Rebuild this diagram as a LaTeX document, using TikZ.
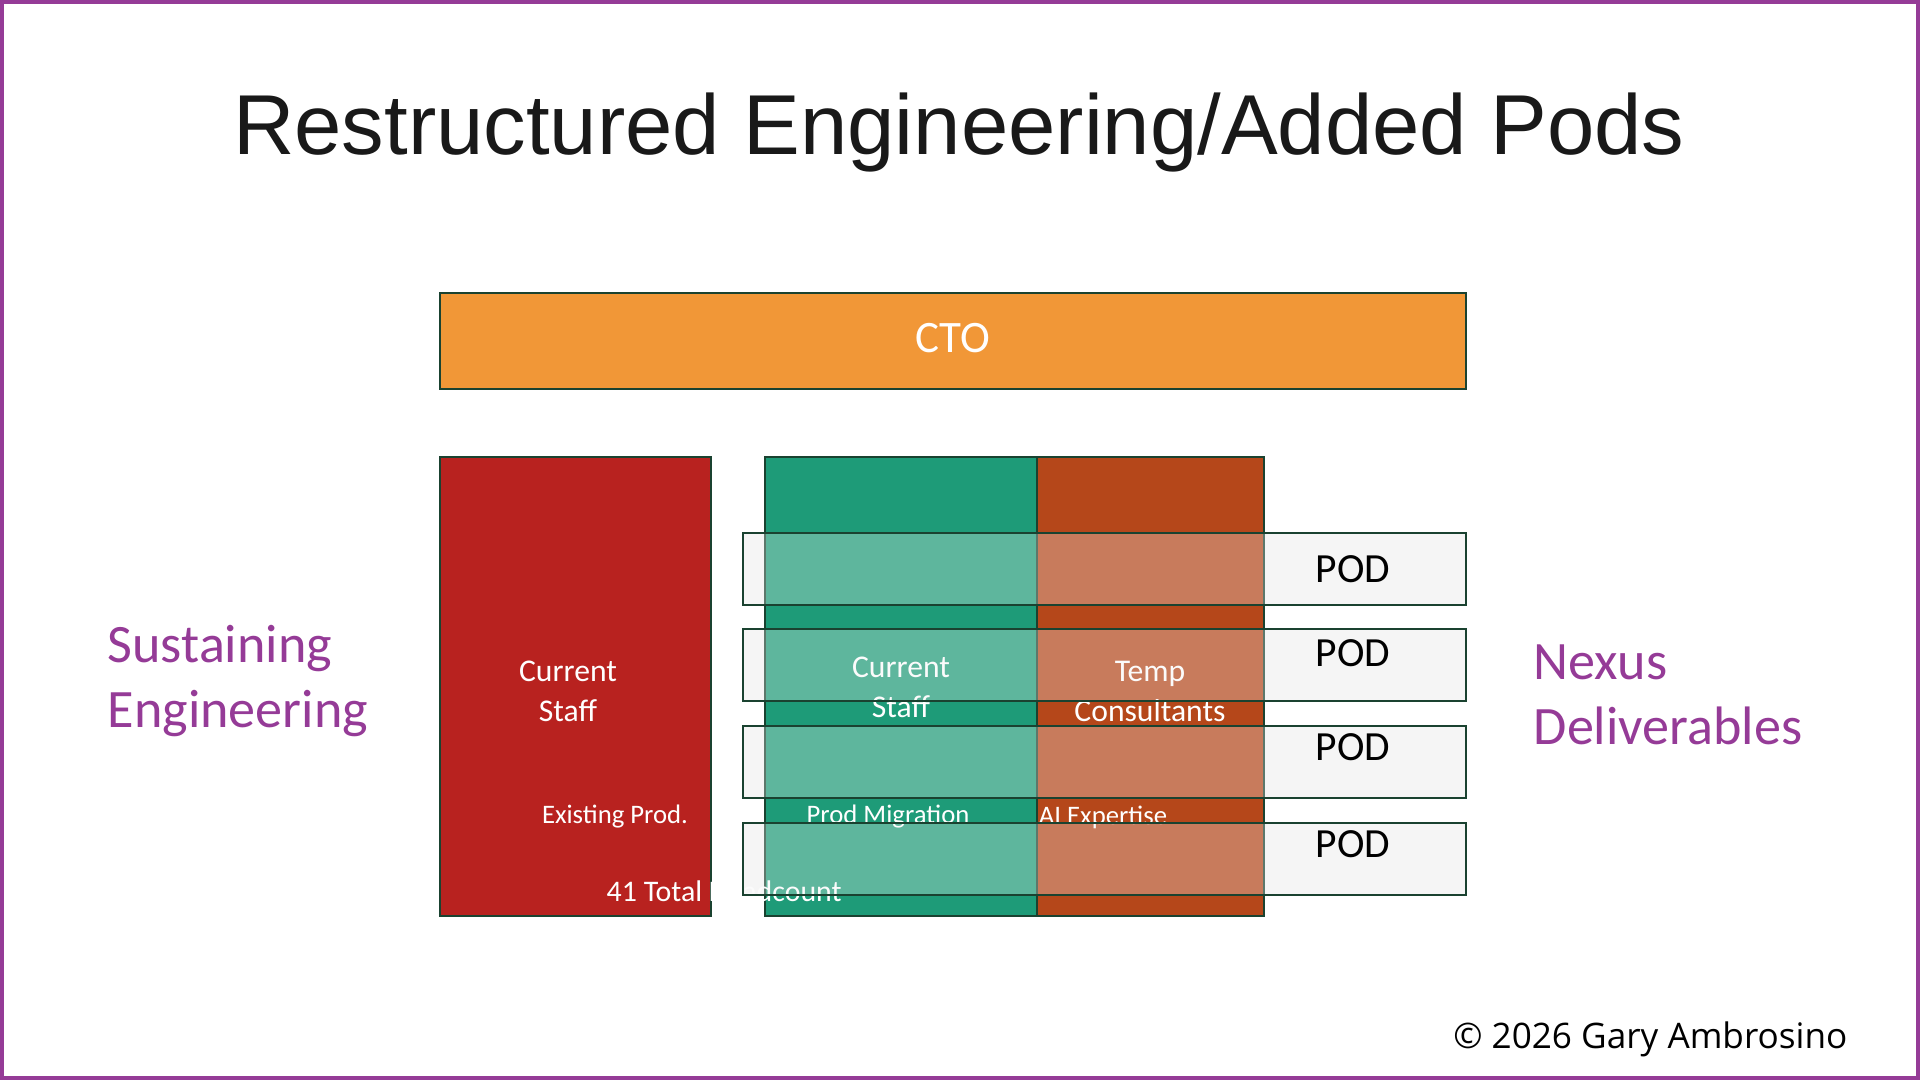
\documentclass[tikz,border=0pt]{standalone}
\usepackage{fontspec}
\setmainfont{Carlito}
\newfontfamily\titlefont{Liberation Sans}
\newfontfamily\notefont{Open Sans}
\usetikzlibrary{positioning, backgrounds}

\definecolor{framepurple}{HTML}{953B97}
\definecolor{edgegreen}{HTML}{1A4230}
\definecolor{ctoorange}{HTML}{F19737}
\definecolor{staffred}{HTML}{B8221F}
\definecolor{migteal}{HTML}{1E9B78}
\definecolor{tempbrown}{HTML}{B5471A}
\definecolor{podgrey}{HTML}{F5F5F5}

\begin{document}
\begin{tikzpicture}[
    block/.style={rectangle, draw=edgegreen, line width=0.7pt, inner sep=0pt, outer sep=0pt, anchor=north west},
    ctobox/.style={block, fill=ctoorange, minimum width=10.26cm, minimum height=0.96cm, text=white, font=\fontsize{12.8}{15}\selectfont},
    colbox/.style={block, minimum height=4.59cm},
    podbox/.style={block, fill=podgrey, fill opacity=0.3, minimum width=7.23cm, minimum height=0.72cm},
    boxtext/.style={text=white, align=center, font=\fontsize{9}{11.4}\selectfont},
    smalltext/.style={text=white, font=\fontsize{7.6}{9}\selectfont},
    podtext/.style={font=\fontsize{11.8}{14}\selectfont},
    sidetext/.style={text=framepurple, align=left, anchor=west, inner sep=0pt, font=\fontsize{15.4}{18.5}\selectfont}
]
\useasboundingbox (0,0) rectangle (19.2,-10.8);
\draw[framepurple, line width=0.04cm] (0.02,-0.02) rectangle (19.18,-10.78);

% Title
\node[font=\titlefont\fontsize{24.2}{29}\selectfont, text=black!90, anchor=base] (title) at (9.59,-1.55) {Restructured Engineering/Added Pods};

% CTO bar
\node[ctobox, text depth=0.07cm] (cto) at (4.40,-2.93) {CTO};

% Columns
\node[colbox, fill=staffred, minimum width=2.71cm] (sustain) at (4.40,-4.57) {};
\node[colbox, fill=migteal, minimum width=2.72cm] (migrate) at (7.65,-4.57) {};
\node[colbox, fill=tempbrown, minimum width=2.27cm] (temp) at (migrate.north east) {};

% Column texts
\node[boxtext] (sustainlabel) at (5.68,-6.915) {Current\\Staff};
\node[boxtext] (migratelabel) at (9.01,-6.875) {Current\\Staff};
\node[boxtext] (templabel) at (11.50,-6.915) {Temp\\Consultants};
\node[smalltext] (existing) at (6.15,-8.17) {Existing Prod.};
\node[smalltext] (prodmig) at (8.88,-8.17) {Prod Migration};
\node[smalltext] (aiexp) at (11.03,-8.17) {AI Expertise};
\node[smalltext, anchor=west, inner sep=0pt, font=\fontsize{8.5}{10}\selectfont] (headcount) at (6.06,-8.91) {41 Total Headcount};

% Pods
\foreach \i/\top/\lab in {1/5.33/5.69, 2/6.29/6.53, 3/7.26/7.47, 4/8.23/8.44} {
  \node[podbox] (pod\i) at (7.43,-\top) {};
  \node[podtext] (podlabel\i) at (13.53,-\lab) {POD};
}
\begin{scope}[on background layer]
  \foreach \i in {1,...,4}
    \fill[podgrey] (pod\i.north west) rectangle (pod\i.south east);
\end{scope}

% Side labels
\node[sidetext] (sustaining) at (1.07,-6.81) {Sustaining\\Engineering};
\node[sidetext] (nexus) at (15.33,-6.95) {Nexus\\Deliverables};

% Credit
\node[font=\notefont\fontsize{10}{12}\selectfont, anchor=east, inner sep=0pt] (credit) at (18.48,-10.39) {© 2026 Gary Ambrosino};

\end{tikzpicture}
\end{document}
